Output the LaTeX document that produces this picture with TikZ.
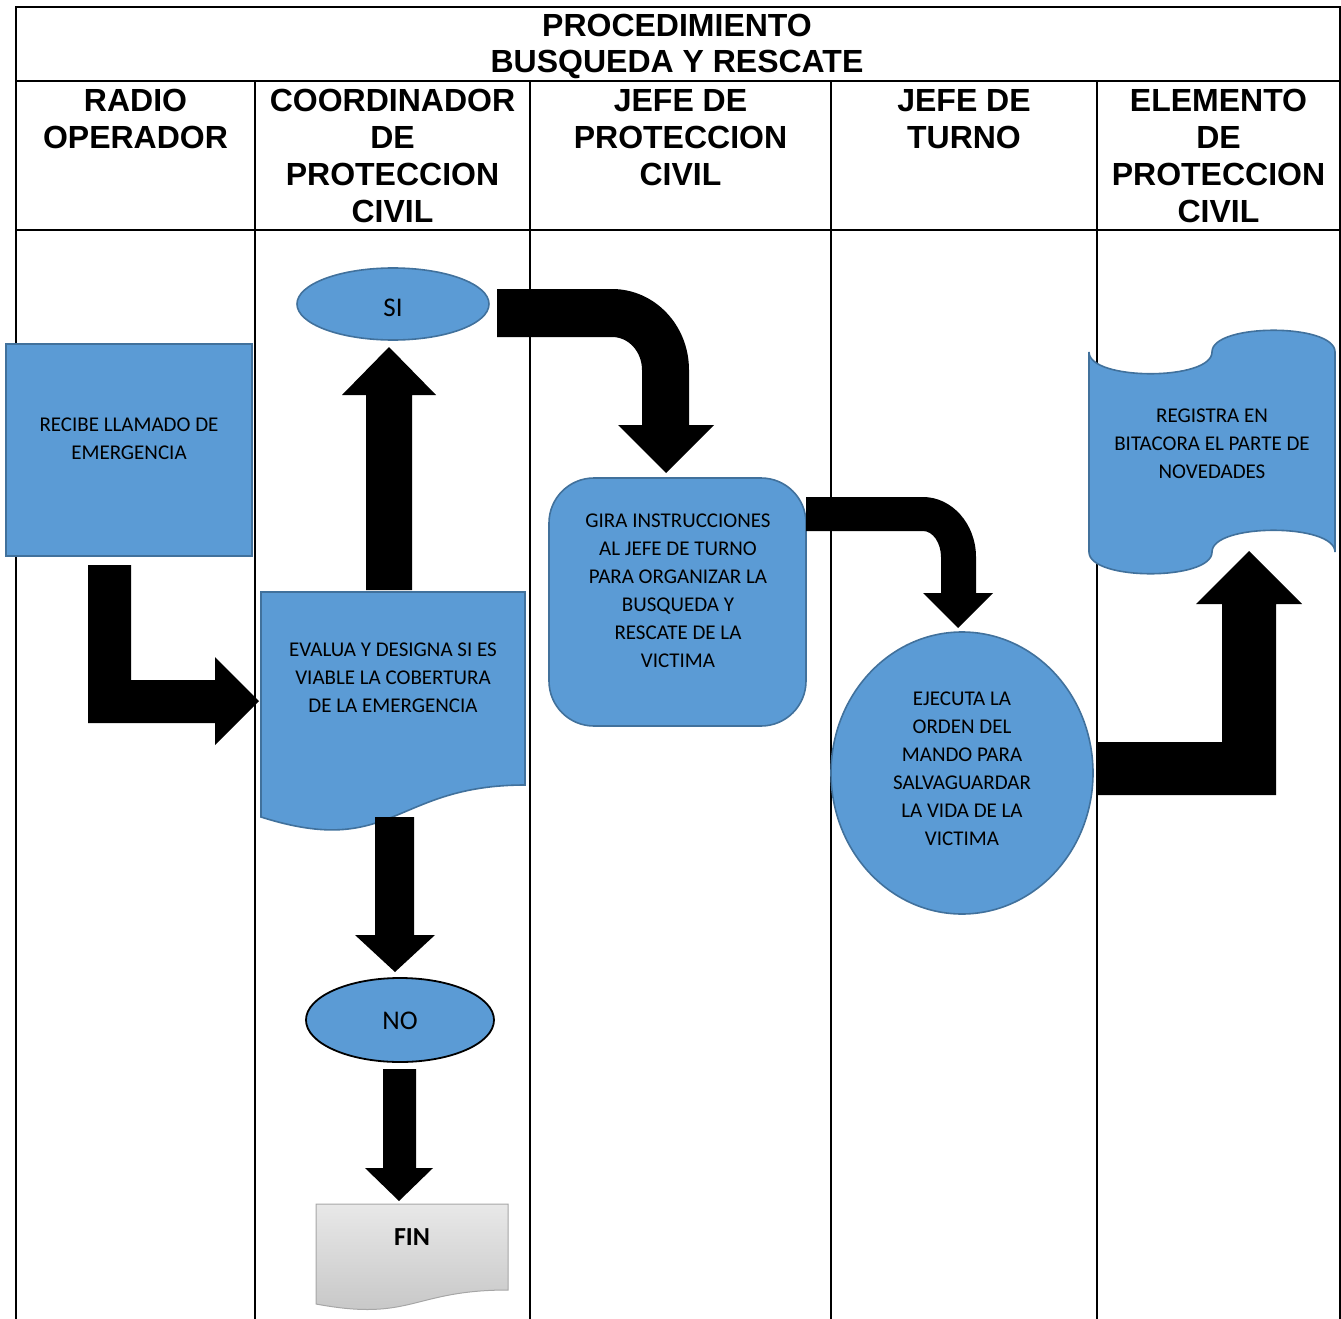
\documentclass[tikz,border=0pt]{standalone}
\usepackage{fontspec}
\setmainfont{Carlito}
\newfontfamily\hdr{Liberation Sans}
\usetikzlibrary{shapes.geometric}
\definecolor{obl}{HTML}{5B9BD5}
\definecolor{obd}{HTML}{41719C}
\definecolor{gtop}{HTML}{E8E8E8}
\definecolor{gbot}{HTML}{C4C4C4}
\definecolor{gbd}{HTML}{A6A6A6}
\tikzset{
  grid/.style={line width=2pt, black},
  hdrtext/.style={anchor=north, align=center, inner sep=0pt, font=\hdr\bfseries\fontsize{32}{37}\selectfont},
  bodytext/.style={anchor=north, align=center, inner sep=0pt, font=\fontsize{21}{28}\selectfont},
  bluefill/.style={fill=obl, draw=obd, line width=1.6pt},
  blockarrow/.style={fill=black, draw=none},
}
\begin{document}
\begin{tikzpicture}[x=1pt,y=-1pt]
\useasboundingbox (0,0) rectangle (1341,1319);
% table
\coordinate (tl) at (16,7);
\coordinate (tr) at (1340,7);
\draw[grid] (16,1319) -- (tl) -- (tr) -- (1340,1319);
\draw[grid] (16,81) -- (1340,81);
\draw[grid] (16,230) -- (1340,230);
\foreach \xx in {255,530,831,1097} \draw[grid] (\xx,81) -- (\xx,1319);
% headers
\node[hdrtext] (title) at (677,14) {PROCEDIMIENTO\\[-1pt]BUSQUEDA Y RESCATE};
\node[hdrtext] (h1) at (135.5,89) {RADIO\\OPERADOR};
\node[hdrtext] (h2) at (392.5,89) {COORDINADOR\\DE\\PROTECCION\\CIVIL};
\node[hdrtext] (h3) at (680.5,89) {JEFE DE\\PROTECCION\\CIVIL};
\node[hdrtext] (h4) at (964,89) {JEFE DE\\TURNO};
\node[hdrtext] (h5) at (1218.5,89) {ELEMENTO\\DE\\PROTECCION\\CIVIL};
% shapes
\node[bluefill, rectangle, minimum width=246pt, minimum height=212pt, inner sep=0pt] (recibe) at (129,450) {};
\node[bodytext] (recibet) at (129,418) {RECIBE LLAMADO DE\\EMERGENCIA};

\node[bluefill, ellipse, minimum width=192pt, minimum height=72pt, inner sep=0pt] (si) at (393,304) {};
\node[inner sep=0pt, font=\fontsize{27}{30}\selectfont] (sit) at (393,308) {SI};

\path[bluefill] (261,592) -- (525,592) -- (525,785) .. controls (393,785) and (393,859) .. (261,817) -- cycle;
\node[bodytext] (evaluat) at (393,642.5) {EVALUA Y DESIGNA SI ES\\VIABLE LA COBERTURA\\DE LA EMERGENCIA};

\node[bluefill, rectangle, rounded corners=45pt, minimum width=257pt, minimum height=248pt, inner sep=0pt] (gira) at (677.5,602) {};
\node[bodytext] (girat) at (678,514) {GIRA INSTRUCCIONES\\AL JEFE DE TURNO\\PARA ORGANIZAR LA\\BUSQUEDA Y\\RESCATE DE LA\\VICTIMA};

\node[bluefill, ellipse, minimum width=262pt, minimum height=282pt, inner sep=0pt] (ejecuta) at (962,773) {};
\node[bodytext] (ejecutat) at (962,691.5) {EJECUTA LA\\ORDEN DEL\\MANDO PARA\\SALVAGUARDAR\\LA VIDA DE LA\\VICTIMA};

\path[bluefill] (1089,352) .. controls (1089,381) and (1212,381) .. (1212,352)
  .. controls (1212,323) and (1335,323) .. (1335,352) -- (1335,552)
  .. controls (1335,523) and (1212,523) .. (1212,552)
  .. controls (1212,581) and (1089,581) .. (1089,552) -- cycle;
\node[bodytext] (registrat) at (1212,408.5) {REGISTRA EN\\BITACORA EL PARTE DE\\NOVEDADES};

\node[fill=obl, draw=black, line width=1.8pt, ellipse, minimum width=188pt, minimum height=84pt, inner sep=0pt] (no) at (400,1020) {};
\node[inner sep=0pt, font=\fontsize{27}{30}\selectfont] (not) at (400,1021) {NO};

\path[top color=gtop, bottom color=gbot, draw=gbd, line width=1pt] (316,1204) -- (508,1204) -- (508,1290) .. controls (412,1290) and (412,1322) .. (316,1304) -- cycle;
\node[inner sep=0pt, font=\bfseries\fontsize{26}{30}\selectfont] (fin) at (412,1237) {FIN};

% block arrows
\path[blockarrow] (88,565) -- (131,565) -- (131,680) -- (215,680) -- (215,657) -- (259,701) -- (215,745) -- (215,723) -- (88,723) -- cycle;
\path[blockarrow] (366,590) -- (366,395) -- (342,395) -- (389,347) -- (436,395) -- (412,395) -- (412,590) -- cycle;
\path[blockarrow] (497,289) -- (612,289) .. controls (654.5,289) and (689,325) .. (689,370) -- (689,425) -- (714,425) -- (666,473) -- (618,425) -- (642,425) -- (642,370) .. controls (642,352) and (629,337) .. (612,337) -- (497,337) -- cycle;
\path[blockarrow] (806,497) -- (923,497) .. controls (952,497) and (976,524) .. (976,557) -- (976,593) -- (993,593) -- (958,628) -- (923,593) -- (941,593) -- (941,557) .. controls (941,543) and (933,531) .. (923,531) -- (806,531) -- cycle;
\path[blockarrow] (375,817) -- (414,817) -- (414,935) -- (435,935) -- (395,972) -- (355,935) -- (375,935) -- cycle;
\path[blockarrow] (383,1069) -- (416,1069) -- (416,1168) -- (433,1168) -- (399,1201) -- (365,1168) -- (383,1168) -- cycle;
\path[blockarrow] (1097,742) -- (1222,742) -- (1222,604) -- (1196,604) -- (1249,551) -- (1302,604) -- (1276,604) -- (1276,795) -- (1097,795) -- cycle;
\end{tikzpicture}
\end{document}
